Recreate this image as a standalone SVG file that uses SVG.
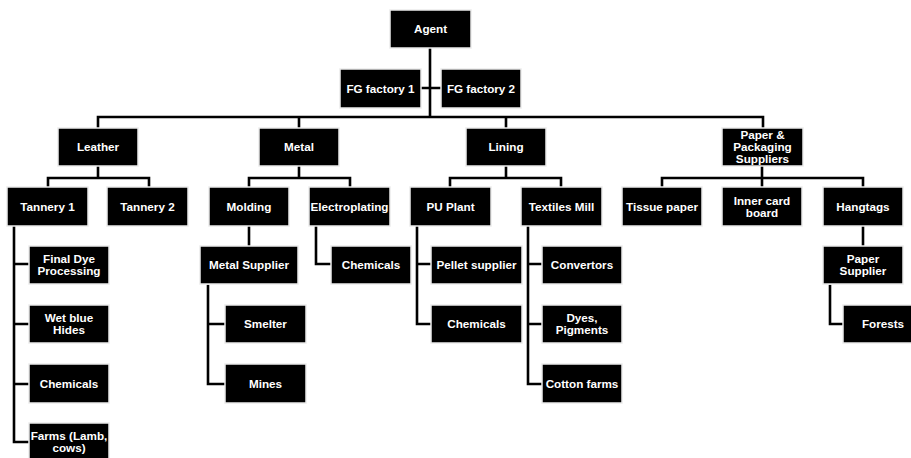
<svg xmlns="http://www.w3.org/2000/svg" width="911" height="458" viewBox="0 0 911 458">
<style>
rect.b{fill:#000;stroke:#ececec;stroke-width:1.5}
text{font-family:"Liberation Sans",Arial,sans-serif;font-weight:bold;font-size:11.7px;fill:#fff;text-anchor:middle}
#connectors path{fill:none;stroke:#000;stroke-width:2.6;stroke-linejoin:miter;stroke-linecap:square}
</style>
<rect width="911" height="458" fill="#fff"/>
<g id="connectors">
<path d="M430,48V117M98,117H763M98,117V128M299,117V128M506,117V128M763,117V128M421,88H441"/>
<path d="M98,166V178M48,187V178H149V187"/>
<path d="M299,166V178M249,187V178H350V187"/>
<path d="M506,166V178M450,187V178H561V187"/>
<path d="M762,166V187M662,187V178H863V187"/>
<path d="M14,226V442H29M14,264H29M14,324H29M14,384H29"/>
<path d="M249,226V246"/>
<path d="M208,286V384H225M208,324H225"/>
<path d="M316,226V264H331"/>
<path d="M417,226V324H431M417,264H431"/>
<path d="M528,226V384H542M528,264H542M528,324H542"/>
<path d="M863,226V246"/>
<path d="M830,286V324H843"/>
</g>
<g id="agent"><rect class="b" x="390" y="10" width="81" height="38"/><text x="430.5" y="33">Agent</text></g>
<g id="fg1"><rect class="b" x="340" y="69" width="81" height="39"/><text x="380.5" y="92.5">FG factory 1</text></g>
<g id="fg2"><rect class="b" x="441" y="69" width="80" height="39"/><text x="481" y="92.5">FG factory 2</text></g>
<g id="leather"><rect class="b" x="58" y="128" width="80" height="38"/><text x="98" y="151">Leather</text></g>
<g id="metal"><rect class="b" x="259" y="128" width="80" height="38"/><text x="299" y="151">Metal</text></g>
<g id="lining"><rect class="b" x="466" y="128" width="80" height="38"/><text x="506" y="151">Lining</text></g>
<g id="paper"><rect class="b" x="722" y="128" width="81" height="38"/><text x="762.5" y="139">Paper &amp;</text><text x="762.5" y="151">Packaging</text><text x="762.5" y="163">Suppliers</text></g>
<g id="tannery1"><rect class="b" x="7" y="187" width="81" height="39"/><text x="47.5" y="210.5">Tannery 1</text></g>
<g id="tannery2"><rect class="b" x="107" y="187" width="81" height="39"/><text x="147.5" y="210.5">Tannery 2</text></g>
<g id="molding"><rect class="b" x="209" y="187" width="80" height="39"/><text x="249" y="210.5">Molding</text></g>
<g id="electroplating"><rect class="b" x="309" y="187" width="81" height="39"/><text x="349.5" y="210.5">Electroplating</text></g>
<g id="puplant"><rect class="b" x="410" y="187" width="81" height="39"/><text x="450.5" y="210.5">PU Plant</text></g>
<g id="textiles"><rect class="b" x="521" y="187" width="81" height="39"/><text x="561.5" y="210.5">Textiles Mill</text></g>
<g id="tissue"><rect class="b" x="622" y="187" width="80" height="39"/><text x="662" y="210.5">Tissue paper</text></g>
<g id="innercard"><rect class="b" x="722" y="187" width="80" height="39"/><text x="762" y="204.5">Inner card</text><text x="762" y="216.5">board</text></g>
<g id="hangtags"><rect class="b" x="823" y="187" width="80" height="39"/><text x="863" y="210.5">Hangtags</text></g>
<g id="finaldye"><rect class="b" x="29" y="246" width="80" height="38"/><text x="69" y="263">Final Dye</text><text x="69" y="275">Processing</text></g>
<g id="wetblue"><rect class="b" x="29" y="305" width="80" height="38"/><text x="69" y="322">Wet blue</text><text x="69" y="334">Hides</text></g>
<g id="chem1"><rect class="b" x="29" y="364" width="80" height="39"/><text x="69" y="387.5">Chemicals</text></g>
<g id="farms"><rect class="b" x="29" y="423" width="80" height="39"/><text x="69" y="440">Farms (Lamb,</text><text x="69" y="452">cows)</text></g>
<g id="metalsupplier"><rect class="b" x="200" y="246" width="98" height="38"/><text x="249" y="269">Metal Supplier</text></g>
<g id="smelter"><rect class="b" x="225" y="305" width="81" height="38"/><text x="265.5" y="328">Smelter</text></g>
<g id="mines"><rect class="b" x="225" y="364" width="81" height="39"/><text x="265.5" y="387.5">Mines</text></g>
<g id="chem2"><rect class="b" x="331" y="246" width="80" height="38"/><text x="371" y="269">Chemicals</text></g>
<g id="pellet"><rect class="b" x="431" y="246" width="91" height="38"/><text x="476.5" y="269">Pellet supplier</text></g>
<g id="chem3"><rect class="b" x="431" y="305" width="91" height="38"/><text x="476.5" y="328">Chemicals</text></g>
<g id="convertors"><rect class="b" x="542" y="246" width="80" height="38"/><text x="582" y="269">Convertors</text></g>
<g id="dyes"><rect class="b" x="542" y="305" width="80" height="38"/><text x="582" y="322">Dyes,</text><text x="582" y="334">Pigments</text></g>
<g id="cotton"><rect class="b" x="542" y="364" width="80" height="39"/><text x="582" y="387.5">Cotton farms</text></g>
<g id="papersupplier"><rect class="b" x="823" y="246" width="80" height="38"/><text x="863" y="263">Paper</text><text x="863" y="275">Supplier</text></g>
<g id="forests"><rect class="b" x="843" y="305" width="80" height="38"/><text x="883" y="328">Forests</text></g>
</svg>
